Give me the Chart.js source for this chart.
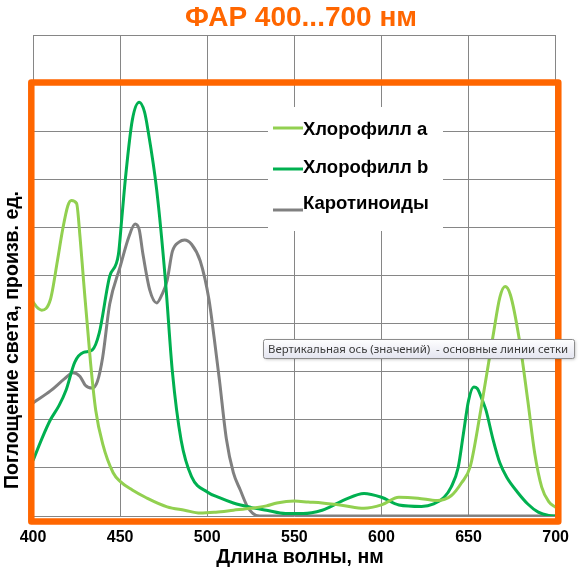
<!DOCTYPE html>
<html>
<head>
<meta charset="utf-8">
<script src="https://cdn.jsdelivr.net/npm/chart.js@4/dist/chart.umd.min.js"></script>
<style>
  html, body { margin: 0; padding: 0; background: #fff; }
  #wrap { width: 581px; height: 569px; }
</style>
</head>
<body>
<div id="wrap"><canvas id="spectra" width="581" height="569"></canvas></div>
<script>
// wavelength, nm / absorption (relative units)
var waveA = [400, 402, 405, 410, 414, 417, 420, 422, 425, 427, 429, 433, 436, 440, 446, 450, 457, 465, 477, 487, 496,
  505, 515, 525, 534, 540, 550, 558, 566, 578, 590, 600, 610, 621, 632, 640, 646, 651, 657, 664, 668, 671, 674, 679,
  684, 688, 692, 696, 700];
var chlA = [4.45, 4.35, 4.28, 4.5, 5.3, 5.95, 6.45, 6.56, 6.5, 5.8, 4.9, 3.2, 2.2, 1.5, 0.9, 0.72, 0.54, 0.38, 0.19, 0.12, 0.06,
  0.08, 0.12, 0.16, 0.21, 0.27, 0.31, 0.29, 0.27, 0.22, 0.16, 0.23, 0.39, 0.37, 0.32, 0.42, 0.69, 1.03, 2.2, 3.73, 4.55, 4.77, 4.6, 3.7,
  2.4, 1.3, 0.6, 0.3, 0.18];

var waveB = [400, 405, 410, 415, 419, 424, 429, 434, 438, 444, 449, 451, 453, 457, 461, 464, 466, 471, 476, 480, 485, 491,
  500, 507, 515, 525, 534, 545, 555, 566, 570, 579, 590, 600, 610, 623, 630, 636, 640, 644, 647, 650, 653, 655, 658,
  660, 664, 668, 672, 678, 684, 690, 696, 700];
var chlB = [1.15, 1.6, 2.0, 2.3, 2.62, 3.2, 3.4, 3.45, 3.8, 4.98, 5.43, 6.2, 7.0, 8.23, 8.6, 8.4, 8.02, 6.78, 4.9, 3.0, 1.58, 0.82,
  0.5, 0.38, 0.27, 0.18, 0.12, 0.05, 0.05, 0.12, 0.18, 0.34, 0.47, 0.39, 0.23, 0.2, 0.25, 0.39, 0.6, 1.0, 1.7, 2.4, 2.68, 2.65, 2.4,
  2.2, 1.6, 1.1, 0.8, 0.5, 0.25, 0.08, 0.01, 0];

var waveCar = [400, 410, 418, 423, 427, 430, 434, 437, 440, 444, 450, 455, 458.6, 461, 463, 467, 471, 474, 477, 480, 484,
  487, 491, 496, 501, 504, 507, 511, 515, 519, 523, 526, 530, 550, 600, 650, 700];
var carot = [2.35, 2.6, 2.85, 2.98, 2.9, 2.72, 2.66, 2.8, 3.3, 4.4, 5.18, 5.8, 6.07, 5.95, 5.47, 4.7, 4.43, 4.6, 4.9, 5.5, 5.7,
  5.74, 5.65, 5.3, 4.5, 3.7, 2.83, 1.6, 0.9, 0.54, 0.2, 0.06, 0, 0, 0, 0, 0];

var seriesNames = ["Хлорофилл a", "Хлорофилл b", "Каротиноиды"];

function pts(xs, ys) {
  return xs.map(function (x, i) { return { x: x, y: ys[i] }; });
}

var FONT = "'Liberation Sans', Arial, sans-serif";

// legend drawn inside the plot, on a white patch over the grid
var innerLegend = {
  id: 'innerLegend',
  beforeDatasetsDraw: function (chart) {
    var ctx = chart.ctx;
    ctx.save();
    ctx.fillStyle = '#fff';
    ctx.fillRect(268, 107, 175, 124);
    var rows = [[128, 130], [169, 168], [210, 204]];
    chart.data.datasets.forEach(function (ds, i) {
      ctx.strokeStyle = ds.borderColor;
      ctx.lineWidth = 3;
      ctx.beginPath();
      ctx.moveTo(273, rows[i][0]);
      ctx.lineTo(303, rows[i][0]);
      ctx.stroke();
      ctx.fillStyle = '#000';
      ctx.font = 'bold 18.5px ' + FONT;
      ctx.textBaseline = 'middle';
      ctx.fillText(ds.label, 303, rows[i][1]);
    });
    ctx.restore();
  }
};

var overlay = {
  id: 'overlay',
  afterDraw: function (chart) {
    var ctx = chart.ctx;
    ctx.save();
    ctx.fillStyle = '#FF6600';
    ctx.font = 'bold 28px ' + FONT;
    ctx.textAlign = 'center';
    ctx.textBaseline = 'middle';
    ctx.fillText('ФАР 400...700 нм', 301, 18);

    // axis titles
    ctx.fillStyle = '#000';
    ctx.font = 'bold 19.5px ' + FONT;
    ctx.fillText('Длина волны, нм', 300, 558);
    ctx.translate(13, 340);
    ctx.rotate(-Math.PI / 2);
    ctx.fillText('Поглощение света, произв. ед.', 0, 0);
    ctx.restore();

    // orange frame
    ctx.save();
    ctx.strokeStyle = '#FF6600';
    ctx.lineWidth = 6.5;
    ctx.lineJoin = 'round';
    ctx.strokeRect(31.3, 82.5, 527, 439);
    ctx.restore();

    // hover hint box
    ctx.save();
    ctx.shadowColor = 'rgba(0,0,0,0.25)';
    ctx.shadowBlur = 3;
    ctx.shadowOffsetX = 1;
    ctx.shadowOffsetY = 1;
    var g = ctx.createLinearGradient(0, 339, 0, 358);
    g.addColorStop(0, '#ffffff');
    g.addColorStop(1, '#e4e5f0');
    ctx.fillStyle = g;
    ctx.beginPath();
    ctx.roundRect(263.5, 339.5, 311, 19, 2);
    ctx.fill();
    ctx.shadowColor = 'transparent';
    ctx.strokeStyle = '#8c8c8c';
    ctx.lineWidth = 1;
    ctx.stroke();
    ctx.fillStyle = '#3b3b3b';
    ctx.font = "11.4px 'Noto Sans', sans-serif";
    ctx.textBaseline = 'middle';
    ctx.fillText('Вертикальная ось (значений)  - основные линии сетки', 268, 349.5);
    ctx.restore();
  }
};

new Chart(document.getElementById('spectra'), {
  type: 'line',
  data: {
    datasets: [
      { label: seriesNames[0], data: pts(waveA, chlA), borderColor: '#92D050' },
      { label: seriesNames[1], data: pts(waveB, chlB), borderColor: '#00B050' },
      { label: seriesNames[2], data: pts(waveCar, carot), borderColor: '#808080' }
    ]
  },
  options: {
    responsive: false,
    animation: false,
    events: [],
    elements: {
      line: { borderWidth: 3, cubicInterpolationMode: 'monotone', fill: false },
      point: { radius: 0 }
    },
    layout: { padding: { left: 0, right: 24, top: 35, bottom: 0 } },
    plugins: {
      legend: { display: false },
      tooltip: { enabled: false }
    },
    scales: {
      x: {
        type: 'linear',
        min: 400,
        max: 700,
        afterFit: function (s) { s.height = 53; },
        ticks: {
          stepSize: 50,
          color: '#000',
          padding: 12,
          maxRotation: 0,
          font: { family: FONT, size: 16, weight: 'bold' }
        },
        grid: { color: '#868686', drawTicks: false },
        border: { display: false }
      },
      y: {
        min: 0,
        max: 10,
        afterFit: function (s) { s.width = 33; },
        ticks: { stepSize: 1, display: false },
        grid: { color: '#868686', drawTicks: false },
        border: { display: false }
      }
    }
  },
  plugins: [innerLegend, overlay]
});
</script>
</body>
</html>
